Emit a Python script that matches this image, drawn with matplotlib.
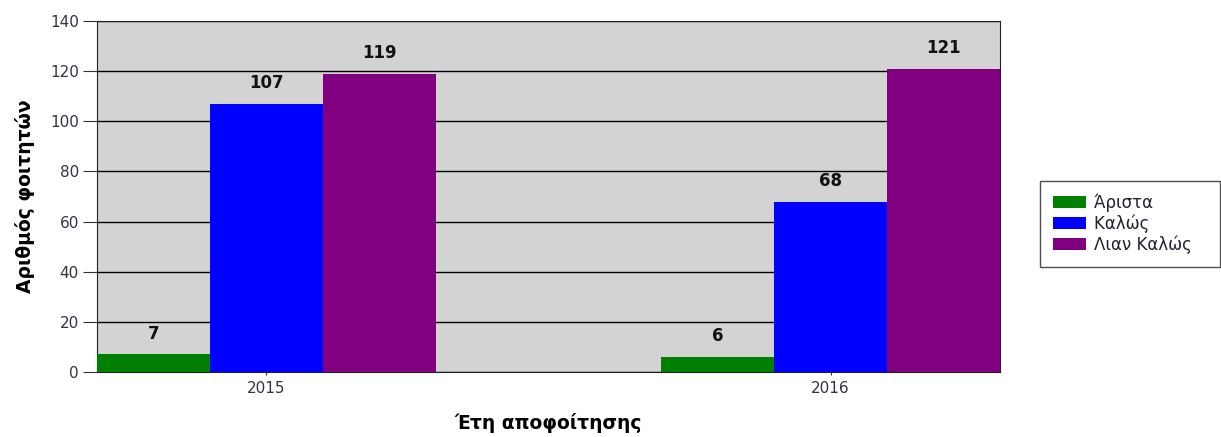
import numpy as np
import matplotlib.pyplot as plt

years = ['2015', '2016']
series_names = ['Άριστα', 'Καλώς', 'Λιαν Καλώς']
aristaa = [7, 6]
kalos = [107, 68]
lian_kalos = [119, 121]
colors = ['#008000', '#0000ff', '#800080']

values = [aristaa, kalos, lian_kalos]

fig = plt.figure(figsize=(12.21, 4.37), dpi=100)
ax = fig.add_axes([97 / 1221, 1 - 372 / 437, 903 / 1221, 351 / 437])
ax.set_facecolor('#d3d3d3')

x = np.arange(len(years))
width = 0.2
for i, (name, vals, c) in enumerate(zip(series_names, values, colors)):
    pos = x + (i - 1) * width
    ax.bar(pos, vals, width=width, color=c, label=name + '   ', zorder=3)
    for p, v in zip(pos, vals):
        ax.annotate(str(v), (p, v), xytext=(0, 15), textcoords='offset points',
                    ha='center', va='center', fontsize=12, fontweight='bold',
                    color='#111111')

ax.set_xlim(-0.3, 1.3)
ax.set_ylim(0, 140)
ax.set_yticks(range(0, 141, 20))
ax.set_xticks(x)
ax.set_xticklabels(years)
ax.yaxis.grid(True, color='black', linewidth=1, zorder=1)
ax.set_axisbelow(True)
ax.tick_params(axis='both', labelsize=11, labelcolor='#333344', color='#333333')
ax.tick_params(axis='y', length=10, pad=3)
ax.tick_params(axis='x', length=2.5, pad=4)
for s in ax.spines.values():
    s.set_color('#222222')

ax.set_xlabel('Έτη αποφοίτησης', fontsize=13.5, fontweight='bold', labelpad=12)
ax.set_ylabel('Αριθμός φοιτητών', fontsize=13.5, fontweight='bold', labelpad=11)

leg = ax.legend(loc='upper left', bbox_to_anchor=(1040 / 1221, 1 - 181 / 437),
                bbox_transform=fig.transFigure, fontsize=12,
                frameon=True, fancybox=False, edgecolor='#222222',
                handlelength=2.0, handleheight=0.72, handletextpad=0.5,
                borderpad=0.75, labelspacing=0.15, borderaxespad=0)
leg.get_frame().set_linewidth(1)
for t in leg.get_texts():
    t.set_color('#222233')

fig.savefig('out.png', dpi=100)
